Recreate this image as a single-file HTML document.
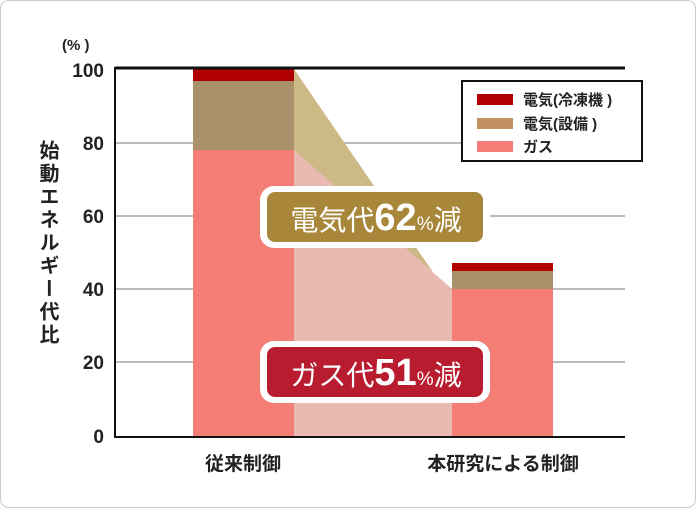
<!DOCTYPE html>
<html><head><meta charset="utf-8"><style>
body{margin:0;background:#fff}
svg text{font-family:"Liberation Sans","Noto Sans CJK JP",sans-serif}
</style></head><body>
<svg width="696" height="508" viewBox="0 0 696 508" xmlns="http://www.w3.org/2000/svg">
<rect x="0.5" y="0.5" width="695" height="507" rx="8" fill="#fff" stroke="#ccc"/>
<g stroke="#bbb" stroke-width="2">
<line x1="115" y1="143" x2="625" y2="143"/><line x1="115" y1="216" x2="625" y2="216"/>
<line x1="115" y1="289" x2="625" y2="289"/><line x1="115" y1="362" x2="625" y2="362"/>
</g>
<polygon points="294,69 452,300 294,300" fill="#cdb985"/>
<polygon points="294,150 452,289 452,436 294,436" fill="#e9bab2"/>
<rect x="193" y="69" width="101" height="12" fill="#b00000"/>
<rect x="193" y="81" width="101" height="69" fill="#a8916b"/>
<rect x="193" y="150" width="101" height="286" fill="#f47d75"/>
<rect x="452" y="263" width="101" height="8" fill="#b00000"/>
<rect x="452" y="271" width="101" height="18" fill="#a8916b"/>
<rect x="452" y="289" width="101" height="147" fill="#f47d75"/>
<line x1="115" y1="68" x2="625" y2="68" stroke="#111" stroke-width="3"/>
<line x1="115" y1="437" x2="625" y2="437" stroke="#111" stroke-width="2"/>
<line x1="115" y1="67" x2="115" y2="438" stroke="#111" stroke-width="2"/>
<g font-size="19" font-weight="bold" fill="#222" text-anchor="end">
<text x="104" y="77">100</text><text x="104" y="150">80</text><text x="104" y="223">60</text>
<text x="104" y="296">40</text><text x="104" y="369">20</text><text x="104" y="443">0</text>
</g>
<text x="62" y="50" font-size="15" font-weight="bold" fill="#222">(% )</text>
<text font-size="20" font-weight="bold" fill="#222" writing-mode="tb" x="47" y="140" letter-spacing="3">始動エネルギー代比</text>
<text x="243" y="470" font-size="19" font-weight="bold" fill="#222" text-anchor="middle">従来制御</text>
<text x="503" y="470" font-size="19" font-weight="bold" fill="#222" text-anchor="middle">本研究による制御</text>
<rect x="462" y="81" width="180" height="80" fill="#fff" stroke="#111" stroke-width="2"/>
<rect x="477" y="94" width="36" height="11" fill="#b00000"/>
<rect x="477" y="118" width="36" height="11" fill="#c09060"/>
<rect x="477" y="141" width="36" height="11" fill="#f47d75"/>
<g font-size="15" font-weight="bold" fill="#222">
<text x="523" y="105">電気(冷凍機 )</text><text x="523" y="129">電気(設備 )</text><text x="523" y="152">ガス</text>
</g>
<rect x="260" y="186" width="230" height="62" rx="14" fill="#fff"/>
<rect x="267" y="192" width="216" height="50" rx="8" fill="#a8873a"/>
<text x="376" y="230" font-size="28" fill="#fff" text-anchor="middle">電気代<tspan font-size="38" font-weight="bold">62</tspan><tspan font-size="19">%</tspan>減</text>
<rect x="260" y="341" width="230" height="62" rx="14" fill="#fff"/>
<rect x="267" y="347" width="216" height="50" rx="8" fill="#b81c2e"/>
<text x="376" y="385" font-size="28" fill="#fff" text-anchor="middle">ガス代<tspan font-size="38" font-weight="bold">51</tspan><tspan font-size="19">%</tspan>減</text>
</svg>
</body></html>
